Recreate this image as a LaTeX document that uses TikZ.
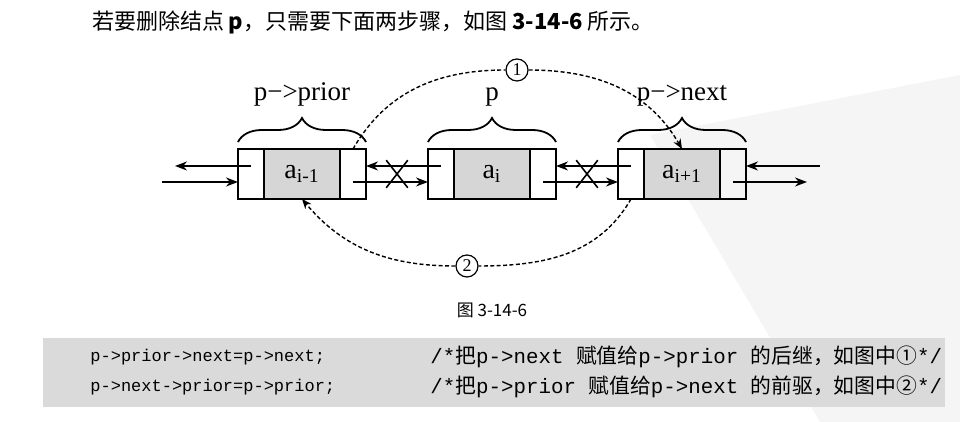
\documentclass[tikz,border=0pt]{standalone}
\usepackage{fontspec}
\setmainfont{Liberation Serif}
\setmonofont{Liberation Mono}
\newfontfamily\cjk{Noto Sans CJK SC}
\usepackage{tikz}
\usetikzlibrary{arrows.meta,calc,positioning,shapes.misc,decorations.pathreplacing}
\definecolor{cellg}{RGB}{214,214,214}
\definecolor{bandg}{RGB}{218,218,218}

\begin{document}
\begin{tikzpicture}[x=0.5pt,y=0.5pt,
  ptr/.style={draw,line width=0.9pt,minimum width=13pt,minimum height=25pt,inner sep=0pt,outer sep=0pt},
  dat/.style={ptr,fill=cellg,minimum width=38pt,font=\fontsize{14}{14}\selectfont},
  link/.style={-{Stealth[length=6pt,width=4.5pt]},line width=0.8pt},
  hop/.style={line width=0.7pt,dash pattern=on 2pt off 1.2pt},
  lbl/.style={font=\fontsize{13.5}{14}\selectfont,inner sep=0pt},
  stepno/.style={circle,draw,line width=0.6pt,inner sep=0pt,minimum size=11pt,font=\fontsize{9}{9}\selectfont},
  code/.style={font=\ttfamily\fontsize{8.5}{9}\selectfont,inner sep=0pt,anchor=west},
  note/.style={font=\cjk\fontsize{10.4}{12}\selectfont,inner sep=0pt,anchor=west}]
  \useasboundingbox (0,0) rectangle (960,422);
  \fill[gray!8] (650,287) -- (960,347) -- (960,0) -- (820,0) -- cycle;
  \node[anchor=west,font=\cjk\fontsize{11}{13}\selectfont] (head) at (85,400) {若要删除结点 \textbf{p}，只需要下面两步骤，如图 \textbf{3-14-6} 所示。};
  % three list nodes
  \node[ptr] (pr1) at (251,248) {};
  \node[dat,right=0pt of pr1] (da1) {a\textsubscript{i-1}};
  \node[ptr,right=0pt of da1] (nx1) {};
  \node[ptr,right=31pt of nx1] (pr2) {};
  \node[dat,right=0pt of pr2] (da2) {a\textsubscript{i}};
  \node[ptr,right=0pt of da2] (nx2) {};
  \node[ptr,right=31pt of nx2] (pr3) {};
  \node[dat,right=0pt of pr3] (da3) {a\textsubscript{i+1}};
  \node[ptr,right=0pt of da3] (nx3) {};
  \foreach \i in {1,2,3}
    \draw[line width=0.9pt,decorate,decoration={brace,amplitude=12pt,raise=3.5pt}] (pr\i.north west) -- (nx\i.north east);
  \node[lbl,anchor=base] (t1) at ([yshift=24pt]da1.north) {p−>prior};
  \node[lbl,anchor=base] (t2) at ([yshift=24pt]da2.north) {p};
  \node[lbl,anchor=base] (t3) at ([yshift=24pt]da3.north) {p−>next};
  % links
  \coordinate (w1) at (175,256); \coordinate (w2) at (162,240);
  \coordinate (e1) at (820,256); \coordinate (e2) at (807,240);
  \draw[link] ([yshift=4pt]pr1.center) -- (w1);
  \draw[link] (w2) -- ([yshift=-4pt]pr1.west);
  \draw[link] ([yshift=4pt]pr2.center) -- ([yshift=4pt]nx1.east);
  \draw[link] ([yshift=-4pt]nx1.center) -- ([yshift=-4pt]pr2.west);
  \draw[link] ([yshift=4pt]pr3.center) -- ([yshift=4pt]nx2.east);
  \draw[link] ([yshift=-4pt]nx2.center) -- ([yshift=-4pt]pr3.west);
  \draw[link] (e1) -- ([yshift=4pt]nx3.east);
  \draw[link] ([yshift=-4pt]nx3.center) -- (e2);
  \node[cross out,draw,line width=0.8pt,minimum width=10pt,minimum height=13pt,inner sep=0pt] (x1) at ($(nx1.east)!0.5!(pr2.west)$) {};
  \node[cross out,draw,line width=0.8pt,minimum width=10pt,minimum height=13pt,inner sep=0pt] (x2) at ($(nx2.east)!0.5!(pr3.west)$) {};
  % steps 1 and 2
  \node[stepno] (s1) at (517,352) {1};
  \node[stepno] (s2) at (467,156) {2};
  \draw[hop] (nx1.north) to[out=60,in=180] (s1.west);
  \draw[hop,-{Stealth[length=5pt,width=4pt]}] (s1.east) to[out=0,in=120] (da3.north);
  \draw[hop] (pr3.south) to[out=-120,in=0] (s2.east);
  \draw[hop,-{Stealth[length=5pt,width=4pt]}] (s2.west) to[out=180,in=-50] (da1.south);
  \node[font=\cjk\fontsize{8.5}{10}\selectfont] (cap) at (492,112) {图 3-14-6};
  % code
  \fill[bandg] (43,15) rectangle (945,84);
  \node[code] (cd1) at (90,65) {p->prior->next=p->next;};
  \node[code] (cd2) at (90,35) {p->next->prior=p->prior;};
  \node[note] (cm1) at (430,65) {\texttt{/*}把\texttt{p->next }赋值给\texttt{p->prior }的后继，如图中①\texttt{*/}};
  \node[note] (cm2) at (430,35) {\texttt{/*}把\texttt{p->prior }赋值给\texttt{p->next }的前驱，如图中②\texttt{*/}};
\end{tikzpicture}
\end{document}
